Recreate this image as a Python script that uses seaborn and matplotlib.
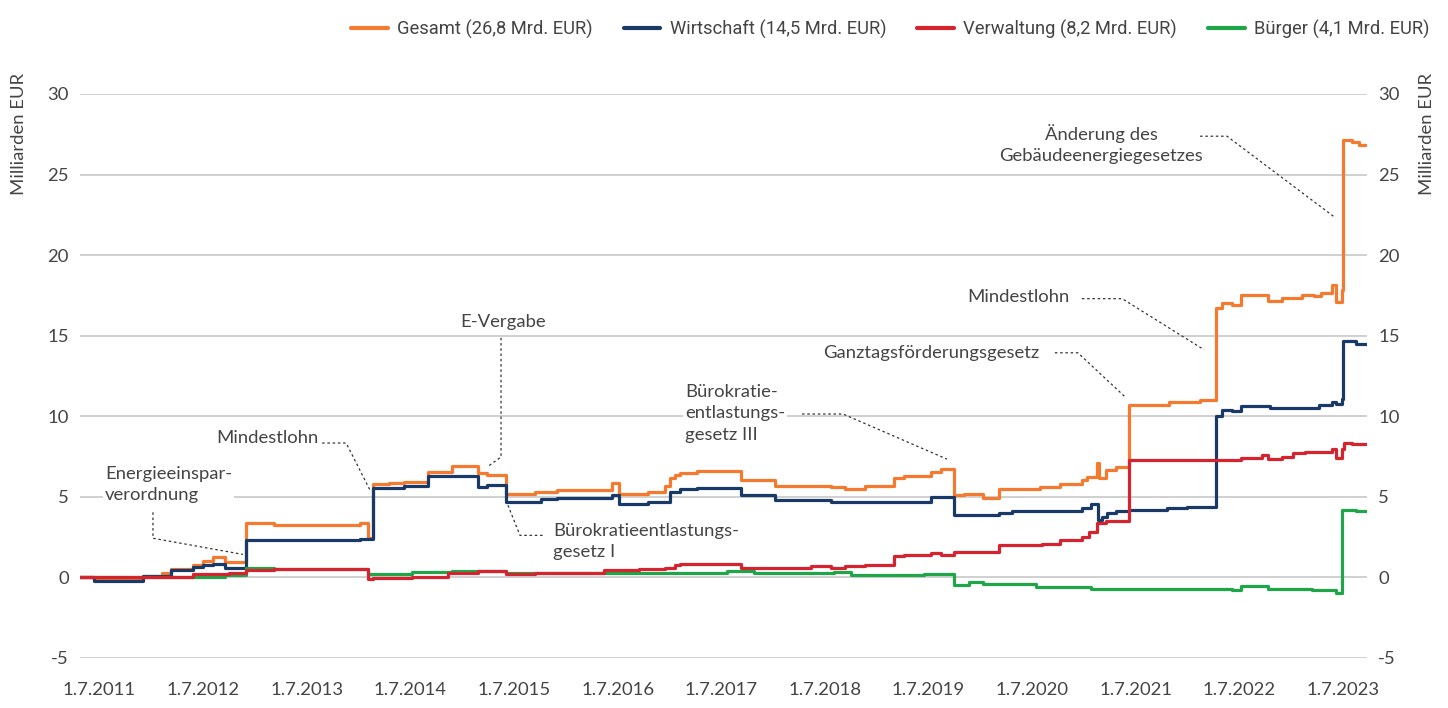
import numpy as np
import pandas as pd
import matplotlib
matplotlib.use("Agg")
import matplotlib.pyplot as plt
import seaborn as sns
from matplotlib.lines import Line2D

# ---------------- data ----------------
gesamt_dates = ["2011-04-20", "2011-06-13", "2011-12-01", "2012-02-05", "2012-03-10", "2012-05-24",
                "2012-07-01", "2012-08-03", "2012-09-15", "2012-11-28", "2013-03-08", "2014-01-04",
                "2014-02-01", "2014-02-18", "2014-04-18", "2014-06-10", "2014-07-25", "2014-09-01",
                "2014-11-24", "2015-02-24", "2015-03-28", "2015-06-04", "2015-09-12", "2015-12-01",
                "2016-06-10", "2016-07-07", "2016-10-15", "2016-12-13", "2017-01-01", "2017-01-18",
                "2017-02-05", "2017-04-07", "2017-09-10", "2018-01-05", "2018-07-24", "2018-09-09",
                "2018-11-18", "2019-03-03", "2019-04-07", "2019-07-10", "2019-08-15", "2019-10-01",
                "2019-11-05", "2020-01-09", "2020-03-07", "2020-07-27", "2020-10-06", "2020-12-25",
                "2021-01-12", "2021-02-14", "2021-02-20", "2021-03-19", "2021-04-24", "2021-06-09",
                "2021-10-28", "2022-02-12", "2022-04-12", "2022-05-01", "2022-06-06", "2022-07-09",
                "2022-10-09", "2022-11-28", "2023-02-09", "2023-03-22", "2023-04-16", "2023-05-24",
                "2023-06-09", "2023-06-27", "2023-07-03", "2023-08-04", "2023-08-28", "2023-09-22"]
gesamt_vals = [0.0, -0.15, 0.1, 0.25, 0.5, 0.75,
               1.05, 1.25, 0.95, 3.38, 3.25, 3.4,
               2.45, 5.8, 5.85, 5.9, 5.95, 6.55,
               6.9, 6.45, 6.35, 5.2, 5.3, 5.45,
               5.85, 5.2, 5.3, 5.7, 6.15, 6.35,
               6.5, 6.6, 6.05, 5.7, 5.6, 5.5,
               5.7, 6.15, 6.3, 6.55, 6.7, 5.1,
               5.2, 4.9, 5.5, 5.6, 5.8, 6.05,
               6.25, 7.1, 6.15, 6.65, 6.85, 10.7,
               10.9, 11.0, 16.7, 17.05, 16.9, 17.5,
               17.15, 17.35, 17.55, 17.45, 17.65, 18.15,
               17.1, 17.85, 27.15, 27.0, 26.85, 26.85]

wirtschaft_dates = ["2011-04-20", "2011-06-13", "2011-12-01", "2012-03-10", "2012-05-24", "2012-07-01",
                    "2012-08-03", "2012-09-15", "2012-11-28", "2013-03-08", "2014-01-04", "2014-02-18",
                    "2014-06-10", "2014-09-01", "2015-02-24", "2015-03-28", "2015-06-04", "2015-10-06",
                    "2015-12-01", "2016-06-10", "2016-07-07", "2016-10-15", "2017-01-01", "2017-02-05",
                    "2017-04-07", "2017-09-10", "2018-01-05", "2018-07-24", "2019-07-10", "2019-10-01",
                    "2020-03-07", "2020-04-22", "2020-12-25", "2021-01-26", "2021-02-17", "2021-03-06",
                    "2021-03-22", "2021-04-24", "2021-06-09", "2021-10-21", "2021-12-28", "2022-04-12",
                    "2022-05-01", "2022-06-06", "2022-07-09", "2022-10-16", "2023-04-09", "2023-05-24",
                    "2023-06-09", "2023-06-27", "2023-07-03", "2023-08-18", "2023-09-22"]
wirtschaft_vals = [0.0, -0.2, 0.1, 0.45, 0.65, 0.75,
                   0.85, 0.6, 2.35, 2.3, 2.4, 5.55,
                   5.65, 6.3, 5.6, 5.75, 4.7, 4.85,
                   4.95, 5.1, 4.55, 4.7, 5.3, 5.5,
                   5.55, 5.1, 4.8, 4.7, 5.0, 3.85,
                   4.0, 4.1, 4.3, 4.55, 3.55, 3.75,
                   4.0, 4.1, 4.2, 4.3, 4.4, 10.0,
                   10.4, 10.35, 10.65, 10.5, 10.7, 10.9,
                   10.75, 11.1, 14.7, 14.5, 14.5]

verwaltung_dates = ["2011-04-20", "2011-12-01", "2012-05-24", "2012-10-01", "2012-11-28", "2013-03-08",
                    "2014-02-01", "2014-02-18", "2014-07-07", "2014-11-10", "2015-02-24", "2015-06-04",
                    "2015-09-12", "2016-05-15", "2016-09-15", "2016-12-13", "2017-01-18", "2017-02-05",
                    "2017-09-10", "2018-05-15", "2018-07-24", "2018-09-09", "2018-11-18", "2019-03-03",
                    "2019-04-07", "2019-07-10", "2019-08-15", "2019-10-01", "2020-03-07", "2020-08-06",
                    "2020-10-06", "2020-12-25", "2021-01-19", "2021-02-14", "2021-03-19", "2021-06-09",
                    "2022-07-09", "2022-09-18", "2022-10-09", "2022-11-28", "2023-01-06", "2023-02-17",
                    "2023-05-24", "2023-06-09", "2023-06-27", "2023-07-06", "2023-08-04", "2023-09-22"]
verwaltung_vals = [0.0, 0.05, 0.2, 0.3, 0.45, 0.5,
                   -0.1, -0.05, 0.05, 0.25, 0.4, 0.2,
                   0.3, 0.45, 0.55, 0.6, 0.8, 0.85,
                   0.6, 0.68, 0.6, 0.72, 0.8, 1.3,
                   1.42, 1.5, 1.42, 1.6, 2.0, 2.1,
                   2.3, 2.5, 2.8, 3.35, 3.5, 7.28,
                   7.4, 7.6, 7.35, 7.5, 7.7, 7.8,
                   7.95, 7.4, 8.0, 8.33, 8.25, 8.25]

buerger_dates = ["2011-04-20", "2012-05-24", "2012-09-15", "2012-11-28", "2013-03-08", "2014-02-01",
                 "2014-07-07", "2014-11-24", "2015-06-04", "2015-12-01", "2016-06-10", "2017-07-22",
                 "2017-10-25", "2018-08-04", "2018-10-03", "2019-06-16", "2019-10-01", "2019-11-22",
                 "2020-01-09", "2020-07-15", "2021-01-26", "2022-06-06", "2022-07-09", "2022-10-09",
                 "2023-03-16", "2023-06-09", "2023-06-27", "2023-08-18", "2023-09-22"]
buerger_vals = [0.0, 0.05, 0.15, 0.6, 0.5, 0.2,
                0.33, 0.4, 0.3, 0.25, 0.3, 0.4,
                0.25, 0.33, 0.12, 0.2, -0.45, -0.3,
                -0.4, -0.6, -0.7, -0.8, -0.55, -0.7,
                -0.8, -0.97, 4.17, 4.1, 4.1]

series_names = ["Gesamt", "Wirtschaft", "Bürger", "Verwaltung"]   # drawing order
legend_names = ["Gesamt", "Wirtschaft", "Verwaltung", "Bürger"]
legend_labels = ["Gesamt (26,8 Mrd. EUR)", "Wirtschaft (14,5 Mrd. EUR)",
                 "Verwaltung (8,2 Mrd. EUR)", "Bürger (4,1 Mrd. EUR)"]
color_map = {"Gesamt": "#F47A30", "Wirtschaft": "#193A66",
             "Verwaltung": "#D52330", "Bürger": "#1EA648"}
tick_years = list(range(2011, 2024))
y_ticks = [-5, 0, 5, 10, 15, 20, 25, 30]

frames = []
for name, d, v in [("Gesamt", gesamt_dates, gesamt_vals),
                   ("Wirtschaft", wirtschaft_dates, wirtschaft_vals),
                   ("Verwaltung", verwaltung_dates, verwaltung_vals),
                   ("Bürger", buerger_dates, buerger_vals)]:
    frames.append(pd.DataFrame({"Datum": pd.to_datetime(d), "Wert": v, "Reihe": name}))
df = pd.concat(frames, ignore_index=True)


def yr(y):
    base = pd.Timestamp(int(y), 1, 1)
    return base + pd.Timedelta(days=(y - int(y)) * 365.25)


# ---------------- style ----------------
sns.set_theme(style="white")
plt.rcParams["font.family"] = ["Lato", "DejaVu Sans"]
TXT = "#444444"
FS = 13.3

fig = plt.figure(figsize=(14.48, 7.08), dpi=100)
ax = fig.add_axes([80 / 1448, 1 - 658 / 708, (1367 - 80) / 1448, (658 - 94) / 708])

sns.lineplot(data=df, x="Datum", y="Wert", hue="Reihe", hue_order=series_names,
             palette=color_map, estimator=None, drawstyle="steps-post",
             linewidth=2.3, legend=False, ax=ax)

ax.set_ylim(-5, 30)
ax.set_xlim(yr(2011.307), yr(2023.73))
ax.set_yticks(y_ticks)
ax.set_yticklabels([str(t) for t in y_ticks])
ax.set_xticks([pd.Timestamp(y, 7, 1) for y in tick_years])
ax.set_xticklabels([f"1.7.{y}" for y in tick_years])
ax.grid(axis="y", color="#C8C8C8", linewidth=1.2)
ax.grid(axis="x", visible=False)
ax.set_axisbelow(True)
for s in ax.spines.values():
    s.set_visible(False)
ax.tick_params(axis="both", length=0, labelsize=FS, colors=TXT)
ax.tick_params(axis="x", pad=17)
ax.tick_params(axis="y", pad=8)
ax.set_xlabel("")
ax.set_ylabel("")

ax2 = ax.twinx()
ax2.set_ylim(-5, 30)
ax2.set_yticks(y_ticks)
ax2.set_yticklabels([str(t) for t in y_ticks])
ax2.tick_params(axis="y", length=0, labelsize=FS, colors=TXT, pad=8)
ax2.grid(False)
for s in ax2.spines.values():
    s.set_visible(False)

fig.text(19 / 1448, 1 - 73 / 708, "Milliarden EUR", rotation=90, ha="center", va="top",
         fontsize=FS, color=TXT)
fig.text(1427 / 1448, 1 - 73 / 708, "Milliarden EUR", rotation=90, ha="center", va="top",
         fontsize=FS, color=TXT)

# ---------------- annotations ----------------
box = dict(facecolor="white", edgecolor="none", pad=1.5)
lead = dict(color="#333333", linewidth=0.9, linestyle=(0, (2, 2.2)))


def note(text, x, y, ha, pts):
    ax.text(yr(x), y, text, ha=ha, va="center", fontsize=FS, color=TXT,
            linespacing=1.42, bbox=box, zorder=6, multialignment=ha)
    ax.plot([yr(p[0]) for p in pts], [p[1] for p in pts], zorder=7, **lead)


note("Energieeinspar-\nverordnung", 2011.548, 5.76, "left",
     [(2012.012, 4.04), (2012.012, 2.43), (2012.88, 1.43)])
note("Mindestlohn", 2013.604, 8.65, "right",
     [(2013.643, 8.34), (2013.875, 8.34), (2014.106, 5.41)])
note("E-Vergabe", 2015.39, 15.87, "center",
     [(2015.371, 14.87), (2015.371, 7.47), (2015.236, 6.85)])
note("Bürokratieentlastungs-\ngesetz I", 2015.873, 2.24, "left",
     [(2015.438, 4.48), (2015.554, 2.61), (2015.776, 2.61)])
note("Bürokratie-\nentlastungs-\ngesetz III", 2017.147, 10.2, "left",
     [(2018.276, 10.14), (2018.672, 10.14), (2019.676, 7.34)])
note("Ganztagsförderungsgesetz", 2020.573, 13.94, "right",
     [(2020.718, 13.94), (2020.94, 13.94), (2021.394, 11.2)])
note("Mindestlohn", 2020.863, 17.42, "right",
     [(2020.979, 17.3), (2021.365, 17.3), (2022.156, 14.13)])
note("Änderung des\nGebäudeenergiegesetzes", 2021.162, 26.88, "center",
     [(2022.118, 27.38), (2022.378, 27.38), (2023.421, 22.34)])

# ---------------- legend ----------------
handles = [Line2D([0], [0], color=color_map[n], linewidth=3) for n in legend_names]
fig.legend(handles, legend_labels, loc="upper right", bbox_to_anchor=(1446 / 1448, 1 - 3 / 708),
           ncol=4, frameon=False, handlelength=2.0, handletextpad=0.5, columnspacing=1.7,
           prop={"family": ["Roboto", "DejaVu Sans"], "size": 13.2},
           labelcolor=TXT)

fig.savefig("out.png", dpi=100, facecolor="white")
